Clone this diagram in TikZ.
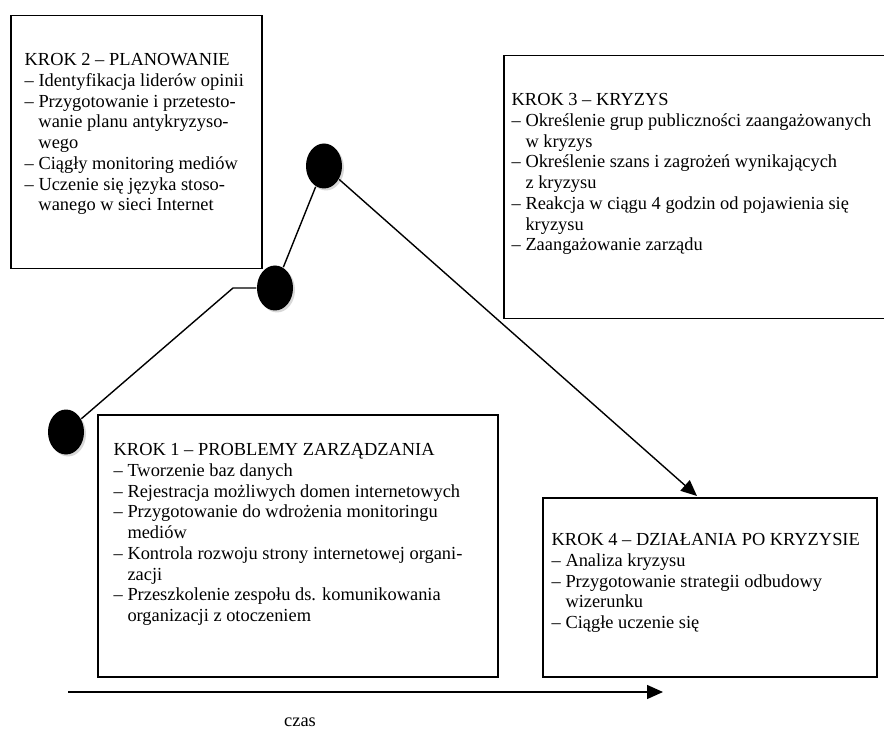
\documentclass[tikz,border=0pt]{standalone}
\usepackage{fontspec}
\setmainfont{Liberation Serif}
\usetikzlibrary{positioning,shapes.geometric,shadows,arrows.meta}
\newcommand{\wc}{\hphantom{–~}}
\begin{document}
\begin{tikzpicture}[x=1pt, y=-1pt, >={Triangle[length=16pt,width=14pt]}, line width=1.4pt,
    box/.style={draw, line width=1.5pt, anchor=north west, inner sep=0pt},
    txt/.style={align=left, inner sep=0pt, font=\fontsize{18.4}{20.7}\selectfont},
    dot/.style={ellipse, fill=black, minimum width=36pt, minimum height=45pt, inner sep=0pt,
        drop shadow={shadow xshift=2pt, shadow yshift=-2pt, fill=black!30}}]
    \useasboundingbox (0,0) rectangle (884,735);
    \node[box, minimum width=251pt, minimum height=253pt] (b2) at (10,15) {};
    \node[box, minimum width=390pt, minimum height=263pt] (b3) at (503,55) {};
    \node[box, minimum width=400pt, minimum height=262pt] (b1) at (97,414) {};
    \node[box, minimum width=334pt, minimum height=179pt] (b4) at (542,497) {};
    \node[txt, below right=38pt and 14pt of b2.north west] (t2) {KROK 2 – PLANOWANIE\\
        – Identyfikacja liderów opinii\\
        – Przygotowanie i przetesto-\\
        \wc wanie planu antykryzyso-\\
        \wc wego\\
        – Ciągły monitoring mediów\\
        – Uczenie się języka stoso-\\
        \wc wanego w sieci Internet};
    \node[txt, below right=38pt and 8pt of b3.north west] (t3) {KROK 3 – KRYZYS\\
        – Określenie grup publiczności zaangażowanych\\
        \wc w kryzys\\
        – Określenie szans i zagrożeń wynikających\\
        \wc z kryzysu\\
        – Reakcja w ciągu 4 godzin od pojawienia się\\
        \wc kryzysu\\
        – Zaangażowanie zarządu};
    \node[txt, below right=29pt and 16pt of b1.north west] (t1) {KROK 1 – PROBLEMY ZARZĄDZANIA\\
        – Tworzenie baz danych\\
        – Rejestracja możliwych domen internetowych\\
        – Przygotowanie do wdrożenia monitoringu\\
        \wc mediów\\
        – Kontrola rozwoju strony internetowej organi-\\
        \wc zacji\\
        – Przeszkolenie zespołu ds. komunikowania\\
        \wc organizacji z otoczeniem};
    \node[txt, below right=36pt and 9pt of b4.north west] (t4) {KROK 4 – DZIAŁANIA PO KRYZYSIE\\
        – Analiza kryzysu\\
        – Przygotowanie strategii odbudowy\\
        \wc wizerunku\\
        – Ciągłe uczenie się};
    \node[dot] (c1) at (66,432) {};
    \node[dot] (c2) at (275,288) {};
    \node[dot] (c3) at (324,166) {};
    \coordinate (k) at (233,288);
    \coordinate (hit) at (697,496);
    \draw (c1) -- (k) -- (c2);
    \draw (c2) -- (c3);
    \draw[->] (c3) -- (hit);
    \coordinate (t0) at (68,692);
    \coordinate (tend) at (663,692);
    \draw[->] (t0) -- (tend);
    \node[txt] (czas) at (300,722) {czas};
\end{tikzpicture}
\end{document}
